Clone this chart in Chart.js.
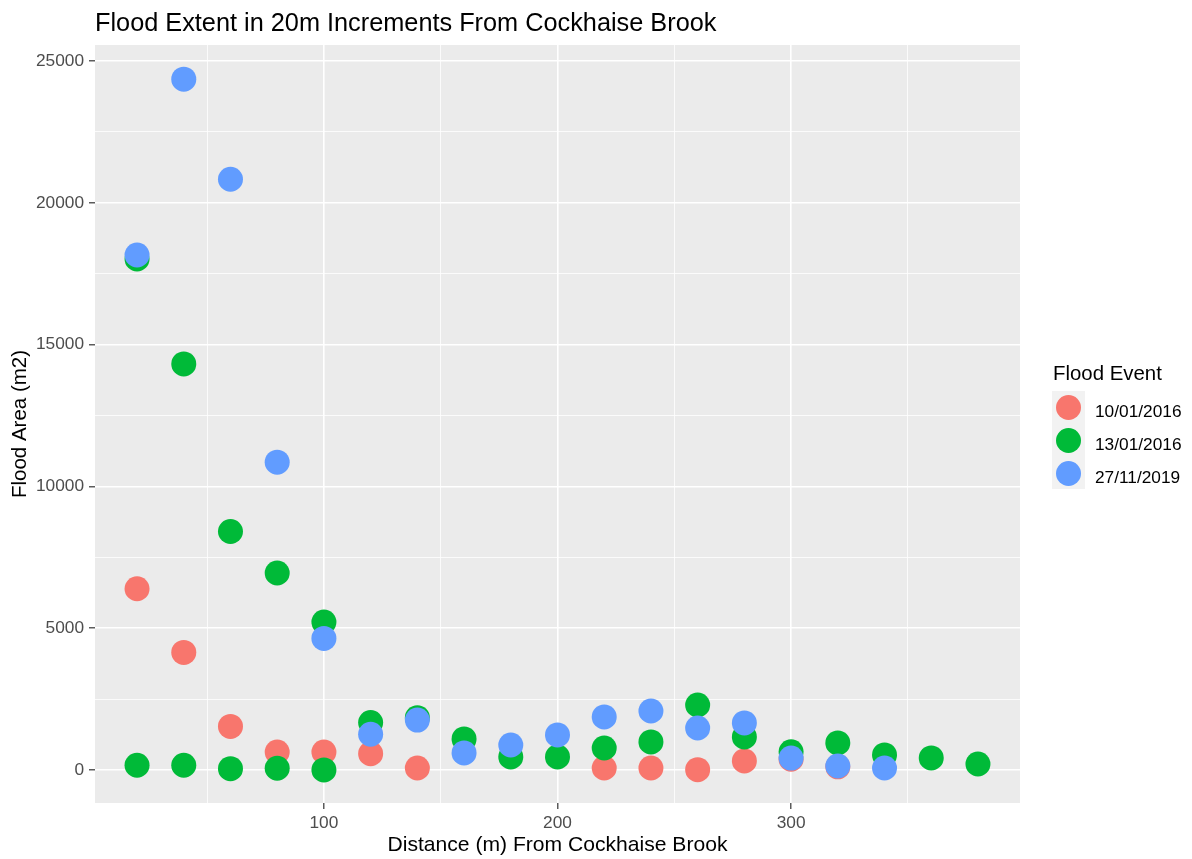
<!DOCTYPE html>
<html>
<head>
<meta charset="utf-8">
<script src="https://cdn.jsdelivr.net/npm/chart.js@4.4.0/dist/chart.umd.min.js"></script>
<style>
  html, body { margin: 0; padding: 0; background: #ffffff; }
  #wrap { width: 1192px; height: 859px; }
</style>
</head>
<body>
<div id="wrap"><canvas id="chart" width="1192" height="859"></canvas></div>
<script>
// Flood area (m2) per 20 m distance band from Cockhaise Brook, by flood event
const eventNames = ['10/01/2016', '13/01/2016', '27/11/2019'];
const eventColors = ['#F8766D', '#00BA38', '#619CFF'];

const dist_10_01_2016 = [20, 40, 60, 80, 100, 120, 140, 220, 240, 260, 280, 300, 320];
const area_10_01_2016 = [6390, 4145, 1535, 634, 634, 575, 70, 70, 70, 10, 320, 380, 110];

const dist_13_01_2016 = [20, 20, 40, 40, 60, 60, 80, 80, 100, 100, 120, 140, 160, 180, 200, 220, 240, 260, 280, 300, 320, 340, 360, 380];
const area_13_01_2016 = [18020, 165, 14320, 165, 8410, 45, 6945, 60, 5215, 0, 1670, 1845, 1095, 460, 460, 775, 990, 2290, 1165, 640, 955, 530, 425, 210];

const dist_27_11_2019 = [20, 40, 60, 80, 100, 120, 140, 160, 180, 200, 220, 240, 260, 280, 300, 320, 340];
const area_27_11_2019 = [18160, 24360, 20830, 10855, 4640, 1260, 1760, 600, 880, 1235, 1870, 2080, 1480, 1660, 420, 140, 70];

// grid positions (major ones carry a label)
const xGridValues = [50, 100, 150, 200, 250, 300, 350];
const xMajorTicks = [100, 200, 300];
const yGridValues = [0, 2500, 5000, 7500, 10000, 12500, 15000, 17500, 20000, 22500, 25000];
const yMajorTicks = [0, 5000, 10000, 15000, 20000, 25000];

const chartTitle = 'Flood Extent in 20m Increments From Cockhaise Brook';
const xTitle = 'Distance (m) From Cockhaise Brook';
const yTitle = 'Flood Area (m2)';
const legendTitle = 'Flood Event';

const FONT = '"Liberation Sans", Arial, Helvetica, sans-serif';
Chart.defaults.font.family = FONT;

function toPoints(xs, ys) {
  return xs.map((x, i) => ({ x: x, y: ys[i] }));
}

const seriesX = [dist_10_01_2016, dist_13_01_2016, dist_27_11_2019];
const seriesY = [area_10_01_2016, area_13_01_2016, area_27_11_2019];

const POINT_R = 12.5;

const datasets = eventNames.map((name, i) => ({
  label: name,
  data: toPoints(seriesX[i], seriesY[i]),
  backgroundColor: eventColors[i],
  borderWidth: 0,
  pointRadius: POINT_R,
  pointHoverRadius: POINT_R,
  order: eventNames.length - i   // later events painted on top
}));

const isMajorX = v => xMajorTicks.includes(Math.round(v));
const isMajorY = v => yMajorTicks.includes(Math.round(v));

// grey panel behind the grid
const panelBackground = {
  id: 'panelBackground',
  beforeDraw(chart) {
    const { ctx, chartArea: a } = chart;
    ctx.save();
    ctx.fillStyle = '#ffffff';
    ctx.fillRect(0, 0, chart.width, chart.height);
    ctx.fillStyle = '#EBEBEB';
    ctx.fillRect(a.left, a.top, a.right - a.left, a.bottom - a.top);
    ctx.restore();
  }
};

// plot title and the event legend at the right
const titleAndLegend = {
  id: 'titleAndLegend',
  afterDraw(chart) {
    const { ctx, chartArea: a } = chart;
    ctx.save();
    ctx.fillStyle = '#000000';
    ctx.textBaseline = 'alphabetic';
    ctx.textAlign = 'left';
    ctx.font = '25.3px ' + FONT;
    ctx.fillText(chartTitle, a.left, 31);

    const lx = 1052, ly = 391, key = 33;
    ctx.font = '20.4px ' + FONT;
    ctx.fillText(legendTitle, lx + 1, 380);

    ctx.fillStyle = '#F2F2F2';
    ctx.fillRect(lx, ly, key, key * eventNames.length - 1);

    ctx.font = '17.3px ' + FONT;
    eventNames.forEach((name, i) => {
      const cy = ly + key * i + key / 2;
      ctx.beginPath();
      ctx.arc(lx + key / 2, cy, POINT_R, 0, Math.PI * 2);
      ctx.fillStyle = eventColors[i];
      ctx.fill();
      ctx.fillStyle = '#000000';
      ctx.fillText(name, lx + 43, cy + 9);
    });
    ctx.restore();
  }
};

new Chart(document.getElementById('chart'), {
  type: 'scatter',
  data: { datasets: datasets },
  options: {
    responsive: false,
    animation: false,
    devicePixelRatio: 1,
    layout: { padding: { top: 45, right: 172, left: 0, bottom: 0 } },
    plugins: {
      legend: { display: false },
      tooltip: { enabled: false },
      title: { display: false }
    },
    scales: {
      x: {
        type: 'linear',
        min: 2,
        max: 398,
        afterFit: s => { s.height = 56; },
        afterBuildTicks: s => { s.ticks = xGridValues.map(v => ({ value: v })); },
        border: { display: false },
        ticks: {
          autoSkip: false,
          maxRotation: 0,
          padding: 4,
          color: '#4D4D4D',
          font: { size: 17.3 },
          callback: v => isMajorX(v) ? String(v) : ''
        },
        grid: {
          color: '#ffffff',
          lineWidth: c => (c.tick && isMajorX(c.tick.value)) ? 1.6 : 0.8,
          tickColor: c => (c.tick && isMajorX(c.tick.value)) ? '#333333' : 'rgba(0,0,0,0)',
          tickLength: 6,
          tickWidth: 1.2
        },
        title: {
          display: true,
          text: xTitle,
          color: '#000000',
          font: { size: 21.1 },
          padding: { top: 0, bottom: 1 }
        }
      },
      y: {
        type: 'linear',
        min: -1165,
        max: 25565,
        afterFit: s => { s.width = 95; },
        afterBuildTicks: s => { s.ticks = yGridValues.map(v => ({ value: v })); },
        border: { display: false },
        ticks: {
          autoSkip: false,
          padding: 5,
          color: '#4D4D4D',
          font: { size: 17.3 },
          callback: v => isMajorY(v) ? String(v) : ''
        },
        grid: {
          color: '#ffffff',
          lineWidth: c => (c.tick && isMajorY(c.tick.value)) ? 1.6 : 0.8,
          tickColor: c => (c.tick && isMajorY(c.tick.value)) ? '#333333' : 'rgba(0,0,0,0)',
          tickLength: 6,
          tickWidth: 1.2
        },
        title: {
          display: true,
          text: yTitle,
          color: '#000000',
          font: { size: 20.5 },
          padding: { top: 8, bottom: 0 }
        }
      }
    }
  },
  plugins: [panelBackground, titleAndLegend]
});
</script>
</body>
</html>
